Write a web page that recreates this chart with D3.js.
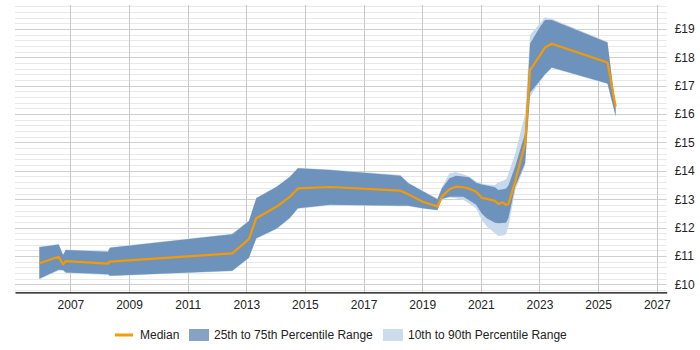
<!DOCTYPE html>
<html>
<head>
<meta charset="utf-8">
<script src="https://cdn.jsdelivr.net/npm/d3@7"></script>
<style>
  body { margin: 0; background: #fff; }
  svg text { font-family: "Liberation Sans", Arial, sans-serif; font-size: 12px; fill: #222; }
</style>
</head>
<body>
<svg width="700" height="350"></svg>
<script>
// decimal years of each sample
var years = [2005.94, 2006.60, 2006.75, 2006.84, 2008.28, 2008.35, 2012.52, 2013.09, 2013.34, 2014.04,
  2014.49, 2014.76, 2015.86, 2018.26, 2018.53, 2019.02, 2019.52, 2019.67, 2019.93, 2020.15,
  2020.40, 2020.60, 2020.84, 2021.03, 2021.20, 2021.48, 2021.60, 2021.75, 2021.86, 2021.94,
  2022.17, 2022.51, 2022.68, 2023.02, 2023.19, 2023.42, 2025.32, 2025.60];

var median = [10.74, 10.97, 10.70, 10.82, 10.73, 10.80, 11.09, 11.59, 12.33, 12.74,
  13.09, 13.38, 13.43, 13.30, 13.17, 12.91, 12.74, 13.09, 13.35, 13.44,
  13.42, 13.37, 13.26, 13.05, 13.01, 12.94, 12.83, 12.89, 12.80, 12.83,
  13.62, 14.97, 17.55, 18.08, 18.35, 18.48, 17.82, 16.26];

var p75 = [11.31, 11.40, 11.03, 11.21, 11.15, 11.29, 11.76, 12.23, 13.03, 13.44,
  13.79, 14.09, 14.03, 13.83, 13.56, 13.28, 13.00, 13.38, 13.74, 13.83,
  13.80, 13.77, 13.58, 13.52, 13.48, 13.42, 13.32, 13.35, 13.38, 13.48,
  14.15, 15.32, 18.49, 19.08, 19.32, 19.32, 18.52, 16.20];

var p25 = [10.20, 10.51, 10.50, 10.42, 10.35, 10.30, 10.48, 10.94, 11.62, 11.97,
  12.35, 12.68, 12.80, 12.77, 12.77, 12.68, 12.62, 13.01, 13.09, 13.09,
  13.09, 12.96, 12.80, 12.50, 12.33, 12.17, 12.15, 12.16, 12.17, 12.33,
  13.44, 14.27, 16.75, 17.18, 17.40, 17.64, 17.08, 15.92];

var p90 = [11.33, 11.42, 11.05, 11.23, 11.17, 11.31, 11.78, 12.25, 13.05, 13.46,
  13.81, 14.11, 14.05, 13.85, 13.58, 13.30, 13.02, 13.42, 13.91, 13.96,
  13.88, 13.80, 13.62, 13.55, 13.52, 13.50, 13.60, 13.65, 13.70, 13.90,
  14.60, 16.00, 18.79, 19.20, 19.41, 19.36, 18.55, 16.22];

var p10 = [10.18, 10.49, 10.48, 10.40, 10.33, 10.28, 10.46, 10.92, 11.60, 11.95,
  12.33, 12.66, 12.78, 12.75, 12.75, 12.66, 12.60, 12.99, 13.06, 13.03,
  12.97, 12.85, 12.68, 12.27, 12.05, 11.80, 11.70, 11.72, 11.76, 12.03,
  13.30, 14.20, 16.60, 17.15, 17.38, 17.62, 17.06, 15.90];

var xTicks = [2007, 2009, 2011, 2013, 2015, 2017, 2019, 2021, 2023, 2025, 2027];
var yTicks = [10, 11, 12, 13, 14, 15, 16, 17, 18, 19];
var legendLabels = ["Median", "25th to 75th Percentile Range", "10th to 90th Percentile Range"];

var svg = d3.select("svg"),
    plotLeft = 15, plotRight = 666.7, plotTop = 5, plotBottom = 292.3;

var x = d3.scaleLinear().domain([2005.11, 2027.34]).range([plotLeft, plotRight]);
var y = d3.scaleLinear().domain([9.718, 19.845]).range([plotBottom, plotTop]);

var data = years.map(function(yr, i) {
  return {year: yr, med: median[i], lo: p25[i], hi: p75[i], lo2: p10[i], hi2: p90[i]};
});

// minor gridlines every 0.2
var minor = d3.range(9.8, 19.85, 0.2).filter(function(v) { return Math.abs(v - Math.round(v)) > 0.01; });
svg.append("g").selectAll("line")
  .data(minor).enter().append("line")
    .attr("x1", plotLeft).attr("x2", plotRight)
    .attr("y1", function(d) { return Math.round(y(d)) + 0.5; })
    .attr("y2", function(d) { return Math.round(y(d)) + 0.5; })
    .attr("stroke", "#e8e8e8");

svg.append("g").selectAll("line")
  .data(yTicks).enter().append("line")
    .attr("x1", plotLeft).attr("x2", plotRight)
    .attr("y1", function(d) { return Math.round(y(d)) + 0.5; })
    .attr("y2", function(d) { return Math.round(y(d)) + 0.5; })
    .attr("stroke", "#cfcfcf");

svg.append("g").selectAll("line")
  .data(xTicks).enter().append("line")
    .attr("x1", function(d) { return Math.round(x(d)) + 0.5; })
    .attr("x2", function(d) { return Math.round(x(d)) + 0.5; })
    .attr("y1", plotTop).attr("y2", plotBottom)
    .attr("stroke", "#c8c8c8");

var area90 = d3.area()
  .x(function(d) { return x(d.year); })
  .y0(function(d) { return y(d.lo2); })
  .y1(function(d) { return y(d.hi2); });

var area75 = d3.area()
  .x(function(d) { return x(d.year); })
  .y0(function(d) { return y(d.lo); })
  .y1(function(d) { return y(d.hi); });

var line = d3.line()
  .x(function(d) { return x(d.year); })
  .y(function(d) { return y(d.med); });

svg.append("path").datum(data).attr("d", area90).attr("fill", "#c8d9eb");
svg.append("path").datum(data).attr("d", area75).attr("fill", "#6d93bc");
svg.append("path").datum(data).attr("d", line)
  .attr("fill", "none").attr("stroke", "#f59a00").attr("stroke-width", 2.2)
  .attr("stroke-linejoin", "round");

// x axis
var xAxis = svg.append("g")
  .attr("transform", "translate(0," + plotBottom + ")")
  .call(d3.axisBottom(x).tickValues(xTicks).tickFormat(d3.format("d")).tickSize(0).tickPadding(8));
xAxis.select(".domain").attr("stroke", "#000").attr("stroke-width", 1.3);
xAxis.selectAll("text").style("font-family", "'Liberation Sans', Arial, sans-serif").style("font-size", "12px").attr("fill", "#222");

// y axis on right
var yAxis = svg.append("g")
  .attr("transform", "translate(" + (plotRight + 2) + ",0)")
  .call(d3.axisRight(y).tickValues(yTicks).tickFormat(function(d) { return "£" + d; }).tickSize(0).tickPadding(6));
yAxis.select(".domain").remove();
yAxis.selectAll("text").style("font-family", "'Liberation Sans', Arial, sans-serif").style("font-size", "12px").attr("fill", "#222");

// legend
var lg = svg.append("g");
lg.append("line").attr("x1", 115).attr("x2", 133).attr("y1", 335).attr("y2", 335)
  .attr("stroke", "#f59a00").attr("stroke-width", 3);
lg.append("text").attr("x", 140).attr("y", 339).text(legendLabels[0]);
lg.append("rect").attr("x", 189).attr("y", 329).attr("width", 20).attr("height", 12).attr("fill", "#86a3c5");
lg.append("text").attr("x", 214).attr("y", 339).text(legendLabels[1]);
lg.append("rect").attr("x", 383).attr("y", 329).attr("width", 20).attr("height", 12).attr("fill", "#cddcec");
lg.append("text").attr("x", 408).attr("y", 339).text(legendLabels[2]);
</script>
</body>
</html>
